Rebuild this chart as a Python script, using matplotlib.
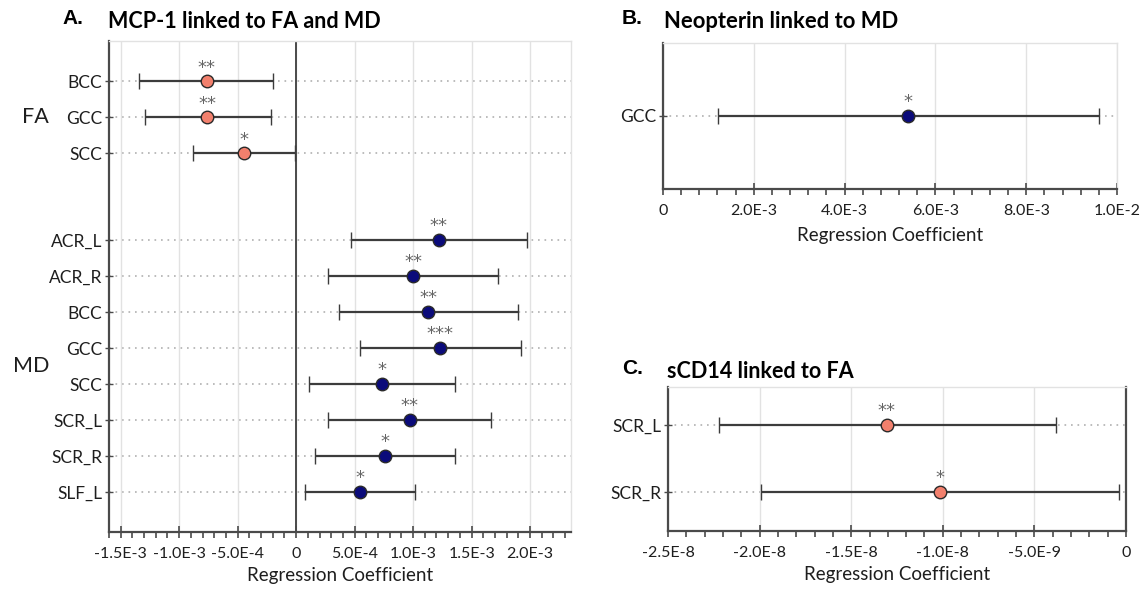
import matplotlib
matplotlib.use("Agg")
import matplotlib.pyplot as plt
import numpy as np
from matplotlib.ticker import MultipleLocator, FuncFormatter
from matplotlib.transforms import blended_transform_factory

# ---------------- data ----------------
# Panel A: MCP-1
fa_regions = ["BCC", "GCC", "SCC"]
fa_coef = [-7.65e-4, -7.6e-4, -4.5e-4]
fa_lo = [-1.34e-3, -1.29e-3, -8.8e-4]
fa_hi = [-1.97e-4, -2.19e-4, -1.0e-5]
fa_sig = ["**", "**", "*"]

md_regions = ["ACR_L", "ACR_R", "BCC", "GCC", "SCC", "SCR_L", "SCR_R", "SLF_L"]
md_coef = [1.22e-3, 1.0e-3, 1.13e-3, 1.23e-3, 7.35e-4, 9.7e-4, 7.6e-4, 5.5e-4]
md_lo = [4.7e-4, 2.7e-4, 3.7e-4, 5.5e-4, 1.1e-4, 2.7e-4, 1.6e-4, 8.0e-5]
md_hi = [1.97e-3, 1.73e-3, 1.9e-3, 1.92e-3, 1.36e-3, 1.67e-3, 1.36e-3, 1.02e-3]
md_sig = ["**", "**", "**", "***", "*", "**", "*", "*"]

# Panel B: Neopterin
neo_regions = ["GCC"]
neo_coef = [5.39e-3]
neo_lo = [1.22e-3]
neo_hi = [9.6e-3]
neo_sig = ["*"]

# Panel C: sCD14
scd_regions = ["SCR_L", "SCR_R"]
scd_coef = [-1.307e-8, -1.014e-8]
scd_lo = [-2.22e-8, -1.995e-8]
scd_hi = [-3.8e-9, -4.0e-10]
scd_sig = ["**", "*"]

# ---------------- style ----------------
FA_COLOR = "#F2806D"
MD_COLOR = "#0B0B7A"
EDGE = "#2a2a2a"
BAR = "#3c3c3c"
SPINE = "#4a4a4a"
GRID = "#e2e2e2"
DOT = "#b0b0b0"
STAR = "#666666"
FONT = "Lato"
TXT = "#1e1e1e"

W, H = 1146, 589
fig = plt.figure(figsize=(W / 100, H / 100), dpi=100)
fig.patch.set_facecolor("white")


def fmt(v, pos=None):
    if abs(v) < 1e-15:
        return "0"
    s = f"{v:.1E}"
    m, e = s.split("E")
    return f"{m}E{int(e)}"


def make_ax(l, r, t, b):
    return fig.add_axes([l / W, 1 - b / H, (r - l) / W, (b - t) / H])


def style_ax(ax, major, minor, xlim, ylim, labelpad=4):
    ax.set_xlim(*xlim)
    ax.set_ylim(*ylim)
    ax.xaxis.set_major_locator(MultipleLocator(major))
    ax.xaxis.set_minor_locator(MultipleLocator(minor))
    ax.xaxis.set_major_formatter(FuncFormatter(fmt))
    ax.grid(axis="x", which="major", color=GRID, lw=1.0, zorder=0)
    for side in ("top", "right"):
        ax.spines[side].set_color(GRID)
        ax.spines[side].set_linewidth(1.0)
    for side in ("left", "bottom"):
        ax.spines[side].set_color(SPINE)
        ax.spines[side].set_linewidth(1.6)
    ax.tick_params(axis="x", which="major", direction="inout", length=8, width=1.2,
                   color=SPINE, labelsize=11.5, labelcolor=TXT, pad=7)
    ax.tick_params(axis="x", which="minor", direction="out", length=4, width=1.2,
                   color=SPINE)
    ax.tick_params(axis="y", which="major", direction="inout", length=6, width=1.0,
                   color=SPINE, labelsize=12.5, labelcolor=TXT, pad=2)
    for lab in ax.get_xticklabels() + ax.get_yticklabels():
        lab.set_fontfamily(FONT)
    ax.set_xlabel("Regression Coefficient", fontsize=13.5, family=FONT, color=TXT,
                  labelpad=labelpad)


def draw(ax, pos, coef, lo, hi, sig, color):
    coef = np.asarray(coef)
    err = np.vstack([coef - np.asarray(lo), np.asarray(hi) - coef])
    for p in pos:
        ax.axhline(p, color=DOT, lw=1.2, ls=(0, (1.0, 2.9)), zorder=1)
    ax.errorbar(coef, pos, xerr=err, fmt="o", color=BAR, ecolor=BAR, elinewidth=1.6,
                capsize=6, capthick=1.4, markersize=9, markerfacecolor=color,
                markeredgecolor=EDGE, markeredgewidth=1.0, zorder=3)
    for x, y, s in zip(coef, pos, sig):
        ax.annotate(s, (x, y), xytext=(0, 3.5), textcoords="offset points",
                    ha="center", va="bottom", fontsize=13, color=STAR,
                    family="DejaVu Sans", zorder=4)


# ---------------- Panel A ----------------
axA = make_ax(109, 571, 41, 532)
gap = 2.4
fa_pos = np.arange(len(fa_regions), dtype=float)
md_pos = fa_pos[-1] + gap + np.arange(len(md_regions), dtype=float)
draw(axA, fa_pos, fa_coef, fa_lo, fa_hi, fa_sig, FA_COLOR)
draw(axA, md_pos, md_coef, md_lo, md_hi, md_sig, MD_COLOR)
axA.axvline(0, color=SPINE, lw=1.4, zorder=2)
axA.set_yticks(np.concatenate([fa_pos, md_pos]))
axA.set_yticklabels(fa_regions + md_regions)
style_ax(axA, 5e-4, 1e-4, (-1.6e-3, 2.35e-3), (md_pos[-1] + 1.1, -1.12))
trA = blended_transform_factory(fig.transFigure, axA.transData)
axA.text(35 / W, np.mean(fa_pos), "FA", transform=trA, ha="center", va="center",
         fontsize=15.5, family=FONT, color=TXT)
axA.text(31 / W, np.mean(md_pos), "MD", transform=trA, ha="center", va="center",
         fontsize=15.5, family=FONT, color=TXT)
fig.text(62 / W, 1 - 19 / H, "A.", fontsize=15, fontweight="bold",
         family="Liberation Sans", va="center", ha="left")
fig.text(108 / W, 1 - 22 / H, "MCP-1 linked to FA and MD", fontsize=15.5,
         fontweight="bold", family=FONT, va="center", ha="left")

# ---------------- Panel B ----------------
axB = make_ax(663, 1117, 43, 189)
neo_pos = np.arange(len(neo_regions), dtype=float)
draw(axB, neo_pos, neo_coef, neo_lo, neo_hi, neo_sig, MD_COLOR)
axB.set_yticks(neo_pos)
axB.set_yticklabels(neo_regions)
style_ax(axB, 2e-3, 4e-4, (0, 1.0e-2), (1.0, -1.0), labelpad=6)
fig.text(622 / W, 1 - 19 / H, "B.", fontsize=15, fontweight="bold",
         family="Liberation Sans", va="center", ha="left")
fig.text(664 / W, 1 - 22 / H, "Neopterin linked to MD", fontsize=15.8,
         fontweight="bold", family=FONT, va="center", ha="left")

# ---------------- Panel C ----------------
axC = make_ax(668, 1126, 387, 531)
scd_pos = np.arange(len(scd_regions), dtype=float)
draw(axC, scd_pos, scd_coef, scd_lo, scd_hi, scd_sig, FA_COLOR)
axC.set_yticks(scd_pos)
axC.set_yticklabels(scd_regions)
style_ax(axC, 5e-9, 1e-9, (-2.5e-8, 0), (1.58, -0.57))
axC.spines["right"].set_color(SPINE)
axC.spines["right"].set_linewidth(1.6)
fig.text(622 / W, 1 - 368 / H, "C.", fontsize=15, fontweight="bold",
         family="Liberation Sans", va="center", ha="left")
fig.text(667 / W, 1 - 371 / H, "sCD14 linked to FA", fontsize=15.5,
         fontweight="bold", family=FONT, va="center", ha="left")

fig.savefig("out.png", dpi=100, facecolor="white")
